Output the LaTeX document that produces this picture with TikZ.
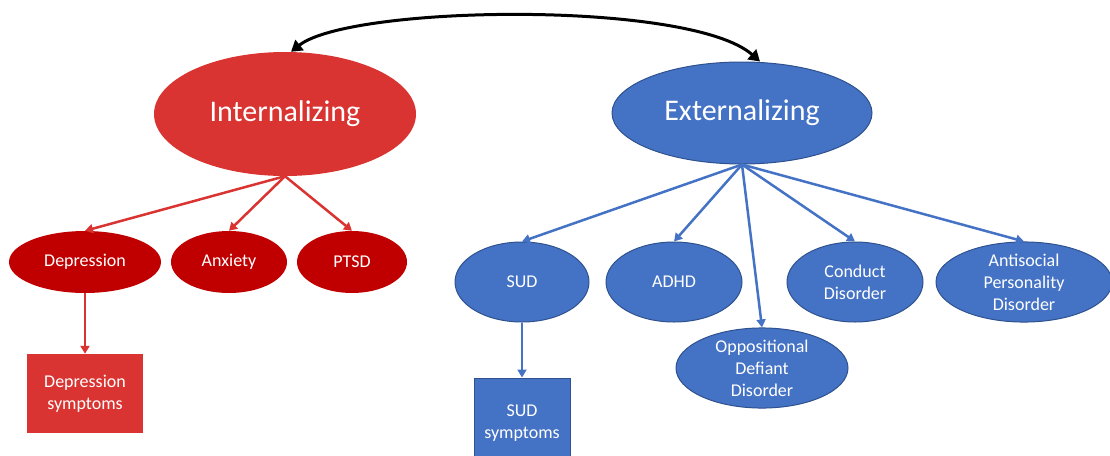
\documentclass[tikz,border=0pt]{standalone}
\usepackage{fontspec}
\setmainfont{Carlito}
\usetikzlibrary{shapes.geometric,arrows.meta}
\definecolor{intred}{HTML}{D93431}
\definecolor{subred}{HTML}{C00000}
\definecolor{extblue}{HTML}{4472C4}
\definecolor{edgeblue}{HTML}{2F528F}
\tikzset{
  bigoval/.style={ellipse,inner sep=0pt,text=white,font=\fontsize{30}{36}\selectfont},
  redoval/.style={ellipse,inner sep=0pt,fill=subred,text=white,align=center,
    font=\fontsize{18}{22}\selectfont},
  blueoval/.style={ellipse,inner sep=0pt,fill=extblue,draw=edgeblue,line width=1pt,
    text=white,align=center,font=\fontsize{18}{22}\selectfont},
  symbox/.style={rectangle,inner sep=0pt,text=white,align=center,
    font=\fontsize{18}{22}\selectfont},
  redlink/.style={draw=intred,line width=2.5pt,-{Triangle[width=9pt,length=8pt]}},
  bluelink/.style={draw=extblue,line width=2.5pt,-{Triangle[width=9pt,length=8pt]}},
  bothlink/.style={draw=black,line width=3pt,{Triangle[width=13pt,length=11pt]}-{Triangle[width=13pt,length=11pt]}}
}
\begin{document}
\begin{tikzpicture}[x=1pt,y=-1pt]
\clip (0,0) rectangle (1110,455);
\fill[white] (0,0) rectangle (1110,455);

% top level factors
\node[bigoval,fill=intred,minimum width=262pt,minimum height=124pt] (int) at (285,114) {Internalizing};
\node[bigoval,fill=extblue,draw=edgeblue,line width=1pt,minimum width=260pt,minimum height=102pt] (ext) at (742,113) {Externalizing};

% internalizing disorders
\node[redoval,minimum width=152pt,minimum height=62pt] (dep) at (85,262) {Depression};
\node[redoval,minimum width=116pt,minimum height=62pt] (anx) at (229,262) {Anxiety};
\node[redoval,minimum width=110pt,minimum height=62pt] (ptsd) at (352,262) {PTSD};
\node[symbox,fill=intred,minimum width=116pt,minimum height=79pt] (depsym) at (85,393.5) {Depression\\symptoms};

% externalizing disorders
\node[blueoval,minimum width=134pt,minimum height=80pt] (sud) at (522,282) {SUD};
\node[blueoval,minimum width=136pt,minimum height=80pt] (adhd) at (674,282) {ADHD};
\node[blueoval,minimum width=172pt,minimum height=80pt] (odd) at (762,368) {Oppositional\\Defiant\\Disorder};
\node[blueoval,minimum width=136pt,minimum height=80pt] (cd) at (855,282) {Conduct\\Disorder};
\node[blueoval,minimum width=176pt,minimum height=80pt] (aspd) at (1024,282) {Antisocial\\Personality\\Disorder};
\node[symbox,fill=extblue,draw=edgeblue,line width=1pt,minimum width=96pt,minimum height=90pt] (sudsym) at (522,423) {SUD\\symptoms};

% correlation between the two factors
\path (int.north) ++(6,0) coordinate (intTop)
      (ext.north) ++(18,0) coordinate (extTop);
\draw[bothlink] (intTop) .. controls (350,5) and (690,0) .. (extTop);

% factor loadings
\draw[redlink] (int.south) -- (dep.north);
\draw[redlink] (int.south) -- (anx.north);
\draw[redlink] (int.south) -- (ptsd.north);
\draw[redlink] (dep.south) -- (depsym.north);

\draw[bluelink] (ext.south) -- (sud.north);
\draw[bluelink] (ext.south) -- (adhd.north);
\draw[bluelink] (ext.south) -- (odd.north);
\draw[bluelink] (ext.south) -- (cd.north);
\draw[bluelink] (ext.south) -- (aspd.north);
\draw[bluelink] (sud.south) -- (sudsym.north);
\end{tikzpicture}
\end{document}
